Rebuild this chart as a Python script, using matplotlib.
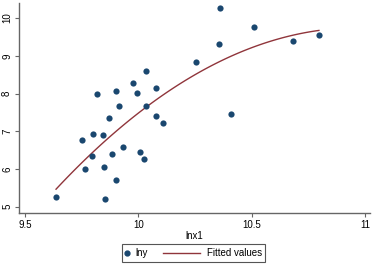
import matplotlib
matplotlib.use("Agg")
import matplotlib.pyplot as plt
import numpy as np
from matplotlib.lines import Line2D
from matplotlib.patches import Rectangle

lnx1 = [9.637, 9.750, 9.766, 9.794, 9.801, 9.819, 9.843, 9.848, 9.852, 9.869,
        9.882, 9.900, 9.903, 9.916, 9.934, 9.975, 9.993, 10.007, 10.026, 10.034,
        10.032, 10.077, 10.077, 10.108, 10.253, 10.354, 10.359, 10.407, 10.509,
        10.682, 10.795]
lny = [5.25, 6.77, 6.01, 6.34, 6.93, 7.99, 6.91, 6.06, 5.21, 7.36,
       6.39, 8.07, 5.72, 7.68, 6.58, 8.27, 8.02, 6.44, 6.27, 8.60,
       7.68, 8.14, 7.41, 7.21, 8.84, 9.30, 10.26, 7.46, 9.77,
       9.39, 9.54]

x = np.array(lnx1)
y = np.array(lny)
# quadratic fit, like Stata's qfit
coef = np.polyfit(x, y, 2)
xs = np.linspace(x.min(), x.max(), 100)
fit = np.polyval(coef, xs)

navy = "#1a476f"
maroon = "#90353b"
axis_col = "#666666"

plt.rcParams["font.family"] = ["Liberation Sans", "DejaVu Sans"]
plt.rcParams["font.size"] = 7

fig = plt.figure(figsize=(3.73, 2.65), dpi=100)
ax = fig.add_axes([0.051, 0.197, 0.941, 0.792])

ax.scatter(x, y, s=20, color=navy, zorder=3, linewidths=0)
ax.plot(xs, fit, color=maroon, lw=1.0, zorder=2)

ax.set_xlim(9.474, 11.02)
ax.set_ylim(4.84, 10.4)
ax.set_xticks([9.5, 10, 10.5, 11])
ax.set_xticklabels(["9.5", "10", "10.5", "11"])
ax.set_yticks([5, 6, 7, 8, 9, 10])
for lab in ax.get_yticklabels():
    lab.set_rotation(90)
    lab.set_va("center")

for side in ["top", "right"]:
    ax.spines[side].set_visible(False)
for side in ["left", "bottom"]:
    ax.spines[side].set_color(axis_col)
    ax.spines[side].set_linewidth(1.0)
ax.tick_params(length=3, width=0.8, color=axis_col, pad=2, labelcolor="black")

ax.set_xlabel("lnx1", labelpad=1)

# legend drawn by hand (Stata style, compact)
fig.add_artist(Rectangle((0.327, 0.011), 0.384, 0.068, transform=fig.transFigure,
                         fill=False, edgecolor="#555555", lw=0.8))
fig.add_artist(Line2D([0.341], [0.045], marker="o", markersize=3.5, color=navy,
                      ls="none", transform=fig.transFigure))
fig.text(0.362, 0.045, "lny", va="center", ha="left")
fig.add_artist(Line2D([0.438, 0.536], [0.045, 0.045], color=maroon, lw=1.0,
                      transform=fig.transFigure))
fig.text(0.554, 0.045, "Fitted values", va="center", ha="left")

fig.savefig("out.png", dpi=100, facecolor="white")
